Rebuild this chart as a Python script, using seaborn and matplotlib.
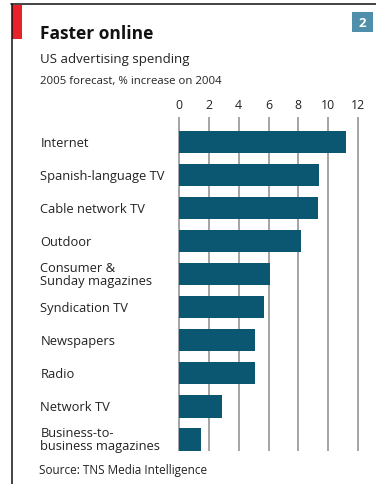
import matplotlib
matplotlib.use("Agg")
import matplotlib.pyplot as plt
import matplotlib.transforms as mtransforms
from matplotlib.patches import Rectangle
from matplotlib.lines import Line2D
import seaborn as sns
import pandas as pd

categories = [
    "Internet",
    "Spanish-language TV",
    "Cable network TV",
    "Outdoor",
    "Consumer &\nSunday magazines",
    "Syndication TV",
    "Newspapers",
    "Radio",
    "Network TV",
    "Business-to-\nbusiness magazines",
]
increase_pct = [11.2, 9.4, 9.3, 8.2, 6.1, 5.7, 5.1, 5.1, 2.9, 1.5]
x_ticks = [0, 2, 4, 6, 8, 10, 12]

title = "Faster online"
subtitle = "US advertising spending"
unit_note = "2005 forecast, % increase on 2004"
source = "Source: TNS Media Intelligence"
badge = "2"

df = pd.DataFrame({"category": categories, "pct": increase_pct})

sns.set_theme(style="white")
plt.rcParams["font.family"] = ["Open Sans", "DejaVu Sans"]

W, H = 376, 485
fig = plt.figure(figsize=(W / 100, H / 100), dpi=100)
fig.patch.set_facecolor("white")

def fx(px):
    return px / W

def fy(py):
    return 1 - py / H

ax = fig.add_axes([fx(178), fy(452), fx(359) - fx(178), fy(118) - fy(452)])

sns.barplot(data=df, x="pct", y="category", orient="h", color="#0b5670",
            saturation=1, width=0.69, linewidth=0, ax=ax, zorder=3)

ax.set_xlim(-0.07, 12.07)
ax.set_ylim(len(categories) - 0.64, -0.76)
ax.set_xticks(x_ticks)
ax.set_xticklabels([str(t) for t in x_ticks])
ax.xaxis.tick_top()
ax.tick_params(axis="x", length=0, pad=4, labelsize=8.8, colors="#222222")
ax.set_yticks([])
ax.set_xlabel("")
ax.set_ylabel("")
for s in ax.spines.values():
    s.set_visible(False)
for t in x_ticks:
    ax.axvline(t, color="#a4a4a4", lw=1.4, zorder=1)

# Category labels aligned to each bar's centre
trans = mtransforms.blended_transform_factory(fig.transFigure, ax.transData)
for i, name in enumerate(categories):
    ax.text(fx(40.5), i, name, transform=trans, ha="left", va="center",
            fontsize=9.3, color="#222222", linespacing=0.95)

# Frame, red tab and number badge
fig.add_artist(Line2D([fx(11.5), fx(11.5)], [fy(5), fy(485)], color="#111111", lw=1.1))
fig.add_artist(Line2D([fx(11), fx(376)], [fy(5), fy(5)], color="#111111", lw=1.1))
fig.add_artist(Rectangle((fx(12), fy(40)), fx(22) - fx(12), fy(6) - fy(40),
                         transform=fig.transFigure, color="#e8212b", lw=0))
fig.add_artist(Rectangle((fx(352), fy(33)), fx(373) - fx(352), fy(13) - fy(33),
                         transform=fig.transFigure, color="#4f8fab", lw=0))
fig.text(fx(362.5), fy(23.5), badge, ha="center", va="center", fontsize=9.5,
         fontweight="bold", color="white")

fig.text(fx(40), fy(39), title, ha="left", va="baseline", fontsize=12.5,
         fontweight="bold", color="#111111")
fig.text(fx(40), fy(63), subtitle, ha="left", va="baseline", fontsize=9.5,
         color="#222222")
fig.text(fx(40), fy(84), unit_note, ha="left", va="baseline", fontsize=8.2,
         color="#222222")
fig.text(fx(39), fy(474), source, ha="left", va="baseline", fontsize=8.5,
         color="#222222")

fig.savefig("out.png", dpi=100)
